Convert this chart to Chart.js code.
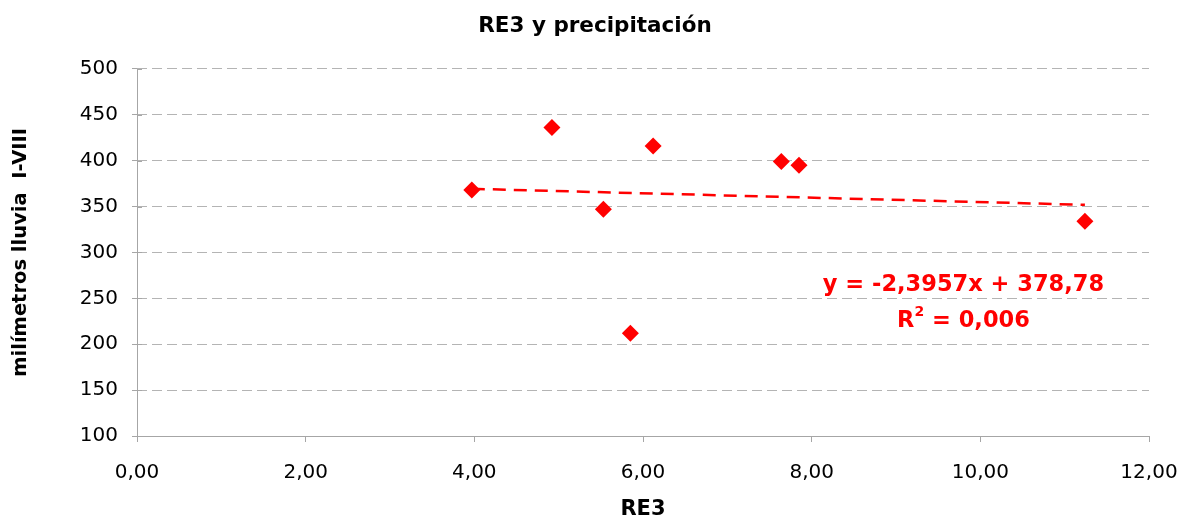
<!DOCTYPE html>
<html>
<head>
<meta charset="utf-8">
<script src="https://cdn.jsdelivr.net/npm/chart.js@4.4.1/dist/chart.umd.min.js"></script>
<style>
  html, body { margin: 0; padding: 0; background: #fff; }
  #wrap { width: 1181px; height: 523px; }
</style>
</head>
<body>
<div id="wrap"><canvas id="c" width="1181" height="523"></canvas></div>
<script>
// RE3 index per year and rainfall (mm, January–August)
const re3 = [3.97, 4.92, 5.53, 5.85, 6.12, 7.64, 7.85, 11.24];
const lluvia = [368, 436, 347, 212, 416, 399, 395, 334];

// Linear trend as reported on the chart
const slope = -2.3957;
const intercept = 378.78;
const r2Text = '0,006';

const yTicks = [100, 150, 200, 250, 300, 350, 400, 450, 500];
const xTicks = [0, 2, 4, 6, 8, 10, 12];

const FONT = '"DejaVu Sans", Verdana, sans-serif';
const RED = '#ff0000';
const AXIS = '#a6a6a6';

const points = re3.map((x, i) => ({ x: x, y: lluvia[i] }));
const xMin = Math.min(...re3), xMax = Math.max(...re3);
const trend = [
  { x: xMin, y: slope * xMin + intercept },
  { x: xMax, y: slope * xMax + intercept }
];

function fmtEq() {
  const s = String(slope).replace('.', ',');
  const b = String(intercept).replace('.', ',');
  return 'y = ' + s + 'x + ' + b;
}

// Solid axis lines, inner half of the cross-style y ticks, equation text
const extras = {
  id: 'extras',
  beforeDatasetsDraw(chart) {
    const ctx = chart.ctx;
    const ys = chart.scales.y;
    const a = chart.chartArea;
    ctx.save();
    ctx.strokeStyle = AXIS;
    ctx.lineWidth = 1;
    ctx.setLineDash([]);
    const lx = Math.round(a.left) + 0.5;
    const by = Math.round(a.bottom) + 0.5;
    ctx.beginPath();
    ctx.moveTo(lx, a.top);
    ctx.lineTo(lx, by);
    ctx.lineTo(a.right, by);
    ctx.stroke();
    yTicks.forEach(v => {
      const py = Math.round(ys.getPixelForValue(v)) + 0.5;
      ctx.beginPath();
      ctx.moveTo(a.left, py);
      ctx.lineTo(a.left + 5, py);
      ctx.stroke();
    });
    ctx.restore();
  },
  afterDatasetsDraw(chart) {
    const ctx = chart.ctx;
    const ys = chart.scales.y;
    ctx.save();
    const cx = chart.scales.x.getPixelForValue(9.8);
    ctx.fillStyle = RED;
    ctx.textBaseline = 'middle';
    ctx.font = 'bold 22.5px ' + FONT;
    ctx.textAlign = 'center';
    ctx.fillText(fmtEq(), cx, ys.getPixelForValue(264));

    const y2 = ys.getPixelForValue(225);
    const partR = 'R';
    const partRest = ' = ' + r2Text;
    const wR = ctx.measureText(partR).width;
    const wRest = ctx.measureText(partRest).width;
    ctx.font = 'bold 14px ' + FONT;
    const wSup = ctx.measureText('2').width;
    const sx = cx - (wR + wSup + wRest) / 2;
    ctx.textAlign = 'left';
    ctx.font = 'bold 22.5px ' + FONT;
    ctx.fillText(partR, sx, y2);
    ctx.font = 'bold 14px ' + FONT;
    ctx.fillText('2', sx + wR, y2 - 9);
    ctx.font = 'bold 22.5px ' + FONT;
    ctx.fillText(partRest, sx + wR + wSup, y2);
    ctx.restore();
  }
};

new Chart(document.getElementById('c'), {
  type: 'scatter',
  data: {
    datasets: [
      {
        label: 'RE3 y precipitación',
        data: points,
        pointStyle: 'rectRot',
        pointRadius: 8.5,
        pointHoverRadius: 8.5,
        backgroundColor: RED,
        borderColor: RED,
        borderWidth: 0,
        order: 1
      },
      {
        type: 'line',
        label: 'Lineal',
        data: trend,
        borderColor: RED,
        borderWidth: 2.5,
        borderDash: [13, 8],
        pointRadius: 0,
        fill: false,
        order: 2
      }
    ]
  },
  plugins: [extras],
  options: {
    responsive: false,
    animation: false,
    events: [],
    layout: { padding: { left: 9, right: 0, top: 0, bottom: 0 } },
    plugins: {
      legend: { display: false },
      tooltip: { enabled: false },
      title: {
        display: true,
        text: 'RE3 y precipitación',
        color: '#000',
        font: { family: FONT, size: 21.5, weight: 'bold' },
        padding: { top: 14, bottom: 29 }
      }
    },
    scales: {
      x: {
        type: 'linear',
        min: 0,
        max: 12,
        afterBuildTicks(s) { s.ticks = xTicks.map(v => ({ value: v })); },
        afterFit(s) { s.height = 87; s.paddingLeft = 0; s.paddingRight = 32; },
        ticks: {
          color: '#000',
          font: { family: FONT, size: 20 },
          padding: 19,
          maxRotation: 0,
          callback: v => v.toFixed(2).replace('.', ',')
        },
        grid: {
          display: true,
          drawOnChartArea: false,
          tickLength: 6,
          tickColor: AXIS,
          color: AXIS
        },
        border: { display: false },
        title: {
          display: true,
          text: 'RE3',
          color: '#000',
          font: { family: FONT, size: 21, weight: 'bold' },
          padding: { top: 0, bottom: 1 }
        }
      },
      y: {
        min: 100,
        max: 500,
        afterBuildTicks(s) { s.ticks = yTicks.map(v => ({ value: v })); },
        afterFit(s) { s.width = 128; },
        ticks: {
          color: '#000',
          font: { family: FONT, size: 20 },
          padding: 14,
          callback: v => String(v)
        },
        grid: {
          color: '#b4b4b4',
          lineWidth: 1,
          tickLength: 5,
          tickColor: AXIS,
          tickBorderDash: []
        },
        border: { display: false, dash: [10, 5] },
        title: {
          display: true,
          text: 'milímetros lluvia  I-VIII',
          color: '#000',
          font: { family: FONT, size: 19.5, weight: 'bold' },
          padding: { top: 0, bottom: 0 }
        }
      }
    }
  }
});
</script>
</body>
</html>
